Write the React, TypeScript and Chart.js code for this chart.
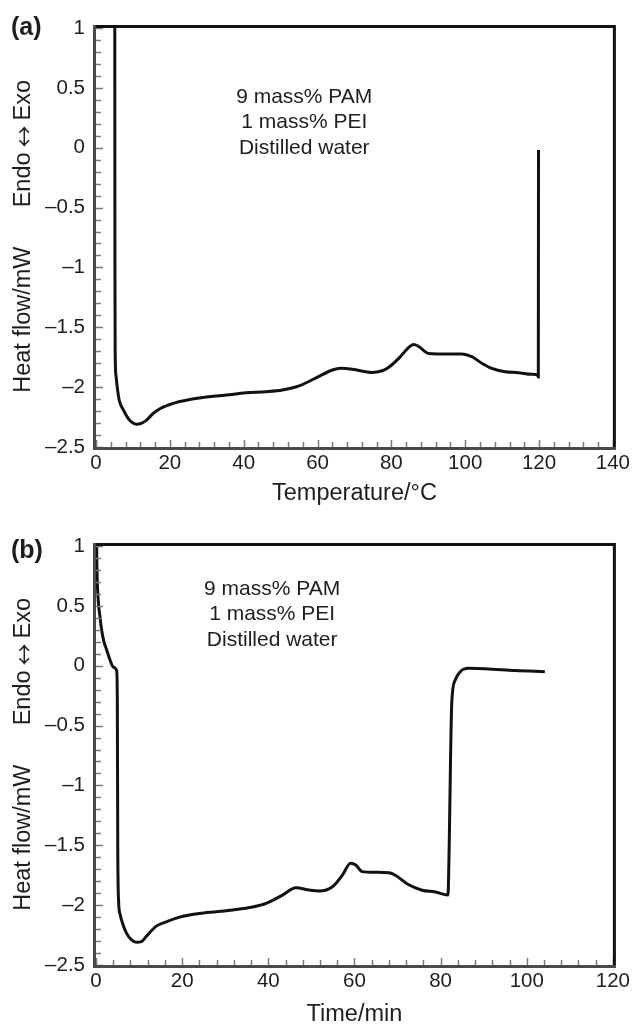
import React, { useEffect, useRef } from 'react';
import { Chart, registerables } from 'chart.js';

Chart.register(...registerables);

const FONT = '"Liberation Sans", Arial, Helvetica, sans-serif';
const ARROW_FONT = '"Noto Sans CJK JP", "DejaVu Sans", sans-serif';
const TEXT = '#1e1e1e';

// ---- Panel (a): heat flow vs temperature ----
const tempC = [
  5.08, 5.13, 5.2, 5.4, 5.75, 6.3, 7.4, 8.7, 10.0, 11.0, 12.4, 13.7, 15.5, 17.3, 20, 22.7, 28, 35.3,
  40.6, 46, 50.5, 55, 60.4, 64, 66.3, 69.4, 74.8, 77.5, 78.9, 82, 84.7, 86.05, 87.4, 90.1, 95.5, 99.1,
  101.8, 104.5, 107.2, 110.8, 114.4, 118, 119.6, 119.8, 119.85,
];
const heatFlowA = [
  1.5, -1.0, -1.72, -1.9, -2.0, -2.11, -2.19, -2.26, -2.3, -2.31, -2.3, -2.275, -2.22, -2.18, -2.145,
  -2.12, -2.09, -2.066, -2.047, -2.038, -2.024, -1.99, -1.91, -1.857, -1.843, -1.85, -1.877, -1.863,
  -1.843, -1.76, -1.667, -1.643, -1.66, -1.718, -1.723, -1.723, -1.746, -1.8, -1.843, -1.871, -1.879,
  -1.893, -1.9, -1.915, -0.02,
];

// ---- Panel (b): heat flow vs time ----
const timeMin = [
  0.05, 0.2, 0.45, 0.92, 1.3, 1.85, 2.5, 3.24, 4.0, 4.8, 4.95, 5.05, 5.24, 5.55, 6.3, 7.1, 8.25, 9.4,
  10.55, 11.7, 14.0, 16.3, 19.4, 24, 27.9, 31.7, 36.4, 39.5, 43.3, 46.4, 49.5, 51.8, 54.9, 57.2, 59.1,
  60.3, 61.8, 64.9, 68, 69.5, 72.6, 75.7, 78.8, 81.7, 82.0, 82.3, 82.6, 83.4, 84.55, 86.5, 90.3, 97.3,
  104.2,
];
const heatFlowB = [
  1.3, 0.85, 0.58, 0.41, 0.3, 0.2, 0.13, 0.05, -0.01, -0.04, -0.3, -1.5, -1.96, -2.07, -2.166, -2.236,
  -2.29, -2.31, -2.305, -2.26, -2.175, -2.14, -2.1, -2.07, -2.055, -2.04, -2.015, -1.985, -1.916,
  -1.855, -1.874, -1.882, -1.846, -1.75, -1.65, -1.665, -1.72, -1.726, -1.73, -1.75, -1.83, -1.875,
  -1.89, -1.916, -1.5, -0.8, -0.3, -0.12, -0.05, -0.022, -0.025, -0.04, -0.05,
];

// ---- Axes and text ----
const yTicks = [1, 0.5, 0, -0.5, -1, -1.5, -2, -2.5];
const xTicksA = [0, 20, 40, 60, 80, 100, 120, 140];
const xTicksB = [0, 20, 40, 60, 80, 100, 120];
const yTitleLower = 'Heat flow/mW';
const yTitleUpper = ['Endo', '\u2194', 'Exo'];
const xTitleA = 'Temperature/\u00B0C';
const xTitleB = 'Time/min';
const sampleLines = ['9 mass% PAM', '1 mass% PEI', 'Distilled water'];

type PanelProps = {
  label: string;
  xs: number[];
  ys: number[];
  xTicks: number[];
  xTitle: string;
  height: number;
  padTop: number;
  padBottom: number;
  xAxisHeight: number;
  labelY: number;
  noteX: number;
  noteY: number;
};

const fmt = (v: number) => (v < 0 ? '\u2013' + Math.abs(v) : String(v));

function Panel(p: PanelProps) {
  const ref = useRef<HTMLCanvasElement | null>(null);
  useEffect(() => {
    if (!ref.current) return;
    const xMin = p.xTicks[0];
    const xMax = p.xTicks[p.xTicks.length - 1];
    const yMin = yTicks[yTicks.length - 1];
    const yMax = yTicks[0];

    const decor = {
      id: 'decor',
      afterDatasetsDraw(chart: any) {
        const { ctx, chartArea, scales } = chart;
        const { left, right, top, bottom } = chartArea;
        const x = scales.x;
        const y = scales.y;
        ctx.save();
        ctx.strokeStyle = '#7a7a7a';
        ctx.lineWidth = 1.5;
        const nY = Math.round((yMax - yMin) / 0.1);
        for (let i = 0; i <= nY; i++) {
          const v = yMin + i * 0.1;
          const py = Math.round(y.getPixelForValue(v)) + 0.5;
          const major = i % 5 === 0;
          ctx.beginPath();
          ctx.moveTo(left, py);
          ctx.lineTo(left + (major ? 7 : 5), py);
          ctx.stroke();
        }
        const nX = Math.round((xMax - xMin) / 4);
        for (let i = 0; i <= nX; i++) {
          const v = xMin + i * 4;
          const px = Math.round(x.getPixelForValue(v)) + 0.5;
          const major = v % 20 === 0;
          ctx.beginPath();
          ctx.moveTo(px, bottom);
          ctx.lineTo(px, bottom - (major ? 7 : 5));
          ctx.stroke();
        }
        ctx.lineWidth = 3;
        ctx.strokeStyle = '#111';
        ctx.beginPath();
        ctx.moveTo(left - 3, top - 1.5);
        ctx.lineTo(right + 1.5, top - 1.5);
        ctx.lineTo(right + 1.5, bottom + 1.5);
        ctx.stroke();
        ctx.strokeStyle = '#4a4a4a';
        ctx.beginPath();
        ctx.moveTo(left - 1.5, top - 3);
        ctx.lineTo(left - 1.5, bottom + 1.5);
        ctx.lineTo(right + 3, bottom + 1.5);
        ctx.stroke();
        ctx.restore();
      },
      afterDraw(chart: any) {
        const { ctx, scales, chartArea } = chart;
        const { top, bottom } = chartArea;
        const h = bottom - top;
        ctx.save();
        ctx.fillStyle = TEXT;
        ctx.font = `bold 25px ${FONT}`;
        ctx.textAlign = 'left';
        ctx.textBaseline = 'middle';
        ctx.fillText(p.label, 11, p.labelY);
        ctx.font = `21px ${FONT}`;
        ctx.textAlign = 'center';
        const cx = scales.x.getPixelForValue(p.noteX);
        const cy = scales.y.getPixelForValue(p.noteY);
        sampleLines.forEach((t, i) => ctx.fillText(t, cx, cy + i * 25.5));
        ctx.restore();

        // y-axis title, rotated
        ctx.save();
        ctx.translate(24, 0);
        ctx.rotate(-Math.PI / 2);
        ctx.fillStyle = TEXT;
        ctx.textBaseline = 'middle';
        ctx.textAlign = 'center';
        ctx.font = `23.5px ${FONT}`;
        ctx.fillText(yTitleLower, -(top + 0.696 * h), 0);
        const fontMain = `23.5px ${FONT}`;
        const fontArrow = `22px ${ARROW_FONT}`;
        const gap = 5;
        ctx.font = fontMain;
        const w0 = ctx.measureText(yTitleUpper[0]).width;
        const w2 = ctx.measureText(yTitleUpper[2]).width;
        ctx.font = fontArrow;
        const w1 = ctx.measureText(yTitleUpper[1]).width;
        const total = w0 + w1 + w2 + 2 * gap;
        let sx = -(top + 0.276 * h) - total / 2;
        ctx.textAlign = 'left';
        ctx.font = fontMain;
        ctx.fillText(yTitleUpper[0], sx, 0);
        sx += w0 + gap;
        ctx.font = fontArrow;
        ctx.fillText(yTitleUpper[1], sx, 0);
        sx += w1 + gap;
        ctx.font = fontMain;
        ctx.fillText(yTitleUpper[2], sx, 0);
        ctx.restore();
      },
    };

    const chart = new Chart(ref.current, {
      type: 'line',
      data: {
        datasets: [
          {
            data: p.xs.map((xv, i) => ({ x: xv, y: p.ys[i] })),
            borderColor: '#111',
            borderWidth: 3,
            pointRadius: 0,
            fill: false,
            cubicInterpolationMode: 'monotone',
          },
        ],
      },
      options: {
        animation: false,
        responsive: false,
        devicePixelRatio: 1,
        layout: { padding: { left: 0, right: 19, top: p.padTop, bottom: p.padBottom } },
        plugins: { legend: { display: false }, tooltip: { enabled: false } },
        scales: {
          x: {
            type: 'linear',
            min: xMin,
            max: xMax,
            border: { display: false },
            grid: { display: false, drawTicks: false },
            afterBuildTicks: (s: any) => {
              s.ticks = p.xTicks.map((v) => ({ value: v }));
            },
            afterFit: (s: any) => {
              s.height = p.xAxisHeight;
            },
            ticks: {
              padding: 4,
              color: TEXT,
              font: { family: FONT, size: 20.5, lineHeight: 1.2 },
              maxRotation: 0,
              autoSkip: false,
              callback: (v: any) => String(v),
            },
            title: {
              display: true,
              text: p.xTitle,
              color: TEXT,
              font: { family: FONT, size: 23.5, lineHeight: 1 },
              padding: { top: 0, bottom: 0 },
            },
          },
          y: {
            type: 'linear',
            min: yMin,
            max: yMax,
            border: { display: false },
            grid: { display: false, drawTicks: false },
            afterBuildTicks: (s: any) => {
              s.ticks = yTicks.map((v) => ({ value: v }));
            },
            afterFit: (s: any) => {
              s.width = 96;
            },
            ticks: {
              padding: 11,
              color: TEXT,
              font: { family: FONT, size: 20.5, lineHeight: 1.2 },
              autoSkip: false,
              callback: (v: any) => fmt(Number(v)),
            },
            title: { display: false },
          },
        },
      },
      plugins: [decor],
    } as any);
    return () => chart.destroy();
  }, []);
  return <canvas ref={ref} width={634} height={p.height} style={{ display: 'block', width: 634, height: p.height }} />;
}

export default function App() {
  return (
    <div style={{ width: 634 }}>
      <style>{'body{margin:0;background:#fff;}'}</style>
      <Panel
        label="(a)"
        xs={tempC}
        ys={heatFlowA}
        xTicks={xTicksA}
        xTitle={xTitleA}
        height={510}
        padTop={28}
        padBottom={5}
        xAxisHeight={58}
        labelY={28}
        noteX={56.4}
        noteY={0.424}
      />
      <Panel
        label="(b)"
        xs={timeMin}
        ys={heatFlowB}
        xTicks={xTicksB}
        xTitle={xTitleB}
        height={516}
        padTop={36}
        padBottom={0}
        xAxisHeight={61}
        labelY={41}
        noteX={40.9}
        noteY={0.641}
      />
    </div>
  );
}
